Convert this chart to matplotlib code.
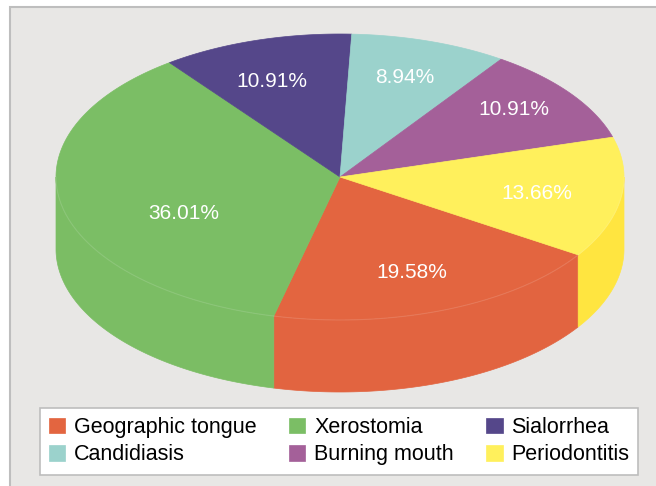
import numpy as np
import matplotlib.pyplot as plt
from matplotlib.patches import Polygon, Rectangle

plt.rcParams['font.family'] = ['Liberation Sans', 'DejaVu Sans']

labels = ['Geographic tongue', 'Xerostomia', 'Sialorrhea',
          'Candidiasis', 'Burning mouth', 'Periodontitis']
values = [19.58, 36.01, 10.91, 8.94, 10.91, 13.66]
top_colors = ['#E36540', '#7BBE65', '#55478A', '#9BD2CC', '#A46099', '#FFF05C']
side_colors = ['#E26440', '#7BBD64', '#51437F', '#93C8C2', '#9A5A90', '#FFE540']

# geometry of the tilted pie (pixel units)
cx, cy = 340, 177
a, b = 284, 143
depth = 72
start = -33.0          # degrees, slices go clockwise
label_r = 0.72
label_nudge = [(-4, 0), (44, 16), (-7, 3), (0, -2), (8, -7), (-5, 1)]

fig = plt.figure(figsize=(6.56, 4.86), dpi=100)
ax = fig.add_axes([0, 0, 1, 1])
ax.set_xlim(0, 656)
ax.set_ylim(486, 0)
ax.axis('off')

ax.add_patch(Rectangle((10, 7), 660, 490, facecolor='#E8E7E5',
                       edgecolor='#BEBEBE', lw=1.5, zorder=0))


def pt(t, r=1.0, dz=0.0):
    t = np.radians(t)
    return cx + r * a * np.cos(t), cy - r * b * np.sin(t) + dz


total = sum(values)
theta = start
handles = []
for i, v in enumerate(values):
    span = 360.0 * v / total
    t1, t2 = theta - span, theta
    ts = np.linspace(t1, t2, 200)
    xs, ys = pt(ts)
    top = np.column_stack([np.r_[cx, xs], np.r_[cy, ys]])
    p = Polygon(top, closed=True, facecolor=top_colors[i], edgecolor=top_colors[i],
                lw=0.5, zorder=3)
    ax.add_patch(p)
    handles.append(p)

    # front side wall: part of the arc in the lower half
    for off in (0, -360, 360):
        s1 = max(t1 + off, -180)
        s2 = min(t2 + off, 0)
        if s2 > s1:
            ss = np.linspace(s1, s2, 200)
            x1, y1 = pt(ss)
            x2, y2 = pt(ss[::-1], dz=depth)
            side = np.column_stack([np.r_[x1, x2], np.r_[y1, y2]])
            ax.add_patch(Polygon(side, closed=True, facecolor=side_colors[i],
                                 edgecolor=side_colors[i], lw=0.5, zorder=2))
            ax.plot(x1, y1, color='white', alpha=0.12, lw=0.8, zorder=4)

    mid = (t1 + t2) / 2
    lx, ly = pt(mid, r=label_r)
    dx, dy = label_nudge[i]
    ax.text(lx + dx, ly + dy, '%.2f%%' % v, color='white', fontsize=15,
            ha='center', va='center', zorder=5)
    theta = t1

order = [0, 3, 1, 4, 2, 5]
leg = fig.legend([handles[k] for k in order], [labels[k] for k in order],
                 ncol=3, loc='upper left', mode='expand',
                 bbox_to_anchor=(0.061, 0.1605, 0.912, 0.0),
                 fontsize=15.5, frameon=True, fancybox=False, framealpha=1,
                 handlelength=0.75, handleheight=0.75, handletextpad=0.4,
                 labelspacing=0.3, borderpad=0.42, borderaxespad=0)
leg.get_frame().set_edgecolor('#BDBDBD')
leg.get_frame().set_linewidth(1.2)

fig.savefig('out.png', dpi=100)
